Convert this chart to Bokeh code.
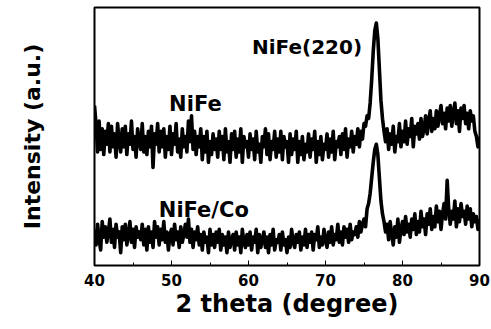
import numpy as np
from bokeh.plotting import figure
from bokeh.models import Range1d, SingleIntervalTicker, FixedTicker, Label
from bokeh.embed import file_html
from bokeh.resources import INLINE

# 2 theta sampling (degrees), step 0.2 from 40 to 90
two_theta = np.round(np.arange(40.0, 90.0001, 0.2), 1)

# NiFe intensity (a.u.)
nife = [
    62, 55, 44, 56, 45, 53, 43, 52, 47, 55,
    44, 54, 46, 51, 42, 55, 48, 44, 53, 46,
    54, 43, 51, 47, 56, 45, 50, 42, 53, 48,
    45, 55, 44, 50, 43, 52, 46, 54, 38, 51,
    47, 55, 44, 52, 46, 53, 42, 50, 45, 54,
    43, 51, 47, 55, 44, 49, 42, 53, 46, 50,
    44, 56, 48, 58, 45, 52, 43, 50, 46, 53,
    41, 50, 44, 52, 40, 48, 43, 51, 45, 49,
    42, 52, 45, 50, 41, 53, 44, 48, 40, 51,
    45, 52, 42, 49, 44, 53, 40, 50, 46, 48,
    42, 51, 45, 49, 41, 52, 44, 47, 40, 50,
    46, 53, 43, 51, 41, 48, 45, 52, 42, 49,
    44, 52, 41, 50, 46, 48, 40, 51, 43, 49,
    45, 52, 40, 48, 43, 50, 41, 47, 44, 51,
    42, 49, 45, 52, 40, 48, 43, 50, 41, 47,
    45, 51, 42, 49, 44, 52, 41, 48, 46, 50,
    43, 51, 45, 53, 42, 49, 46, 52, 44, 50,
    47, 53, 46, 52, 49, 55, 54, 58, 57, 63,
    72, 83, 91, 94, 88, 76, 64, 57, 52, 48,
    53, 45, 51, 47, 54, 44, 50, 48, 55, 46,
    52, 48, 56, 47, 53, 50, 57, 46, 54, 51,
    55, 49, 57, 50, 53, 58, 51, 56, 60, 52,
    57, 53, 60, 54, 58, 62, 55, 59, 53, 61,
    56, 62, 54, 59, 63, 55, 60, 52, 61, 57,
    62, 55, 59, 53, 60, 56, 58, 52, 50, 46,
    50,
]

# NiFe/Co intensity (a.u.)
nifeco = [
    14, 8, 16, 10, 6, 17, 11, 15, 9, 13,
    18, 9, 14, 7, 16, 11, 13, 5, 15, 10,
    16, 8, 12, 17, 9, 14, 7, 15, 11, 13,
    10, 16, 8, 14, 6, 15, 9, 13, 7, 17,
    11, 15, 8, 14, 10, 17, 9, 13, 6, 12,
    14, 8, 16, 10, 13, 7, 15, 9, 12, 16,
    11, 18, 9, 14, 7, 13, 10, 15, 8, 12,
    6, 13, 9, 11, 5, 14, 8, 12, 7, 13,
    9, 14, 6, 12, 8, 11, 5, 13, 7, 10,
    12, 6, 13, 8, 11, 5, 14, 9, 7, 12,
    8, 13, 6, 11, 9, 14, 5, 12, 7, 10,
    13, 7, 11, 5, 12, 8, 14, 6, 10, 9,
    12, 6, 13, 8, 10, 5, 11, 7, 14, 9,
    7, 12, 9, 13, 6, 11, 8, 14, 7, 12,
    9, 13, 6, 12, 10, 15, 7, 11, 8, 14,
    10, 7, 13, 9, 15, 8, 12, 10, 16, 9,
    13, 8, 15, 11, 14, 9, 16, 10, 13, 12,
    15, 11, 17, 13, 16, 18, 15, 22, 24, 28,
    34, 40, 45, 47, 43, 34, 25, 20, 17, 13,
    16, 10, 17, 12, 8, 15, 11, 18, 9, 14,
    17, 12, 19, 13, 16, 11, 18, 14, 20, 12,
    17, 13, 21, 15, 18, 12, 20, 16, 22, 14,
    19, 15, 23, 17, 21, 14, 20, 24, 18, 33,
    22, 16, 21, 18, 25, 15, 22, 17, 24, 19,
    21, 16, 23, 18, 22, 15, 20, 17, 19, 14,
    18,
]

x_ticks = [40, 50, 60, 70, 80, 90]
labels = ["NiFe(220)", "NiFe", "NiFe/Co"]

FONT = "DejaVu Sans"

p = figure(width=491, height=329, output_backend="svg", toolbar_location=None,
           x_range=Range1d(40, 90), y_range=Range1d(0, 100),
           min_border_left=94, min_border_right=12, min_border_top=7,
           min_border_bottom=64)

p.line(two_theta, nife, line_color="black", line_width=3.6, line_join="round")
p.line(two_theta, nifeco, line_color="black", line_width=3.6, line_join="round")

p.xgrid.visible = False
p.ygrid.visible = False
p.outline_line_color = "black"
p.outline_line_width = 2
p.background_fill_color = "white"
p.border_fill_color = "white"

xa = p.xaxis[0]
xa.ticker = SingleIntervalTicker(interval=10, num_minor_ticks=2)
xa.axis_line_color = None
xa.major_tick_in = 5
xa.major_tick_out = 0
xa.minor_tick_in = 3
xa.minor_tick_out = 0
xa.major_tick_line_color = "black"
xa.minor_tick_line_color = "black"
xa.major_label_text_font = FONT
xa.major_label_text_font_style = "bold"
xa.major_label_text_font_size = "15px"
xa.major_label_text_color = "black"
xa.major_label_standoff = 8
xa.axis_label = "2 theta (degree)"
xa.axis_label_text_font = FONT
xa.axis_label_text_font_style = "bold"
xa.axis_label_text_font_size = "24px"
xa.axis_label_text_color = "black"
xa.axis_label_standoff = 1

ya = p.yaxis[0]
ya.ticker = FixedTicker(ticks=[])
ya.axis_line_color = None
ya.major_tick_line_color = None
ya.minor_tick_line_color = None
ya.major_label_text_font_size = "0px"
ya.axis_label = "Intensity (a.u.)"
ya.axis_label_text_font = FONT
ya.axis_label_text_font_style = "bold"
ya.axis_label_text_font_size = "22px"
ya.axis_label_text_color = "black"
ya.axis_label_standoff = 50

label_pos = [(67.6, 84.5, "20px"), (53.1, 62.5, "21px"), (54.2, 21.5, "21px")]
for txt, (lx, ly, fs) in zip(labels, label_pos):
    p.add_layout(Label(x=lx, y=ly, text=txt, text_align="center",
                       text_baseline="alphabetic", text_font=FONT,
                       text_font_style="bold", text_font_size=fs,
                       text_color="black"))

open("out.html", "w").write(file_html(p, INLINE))
